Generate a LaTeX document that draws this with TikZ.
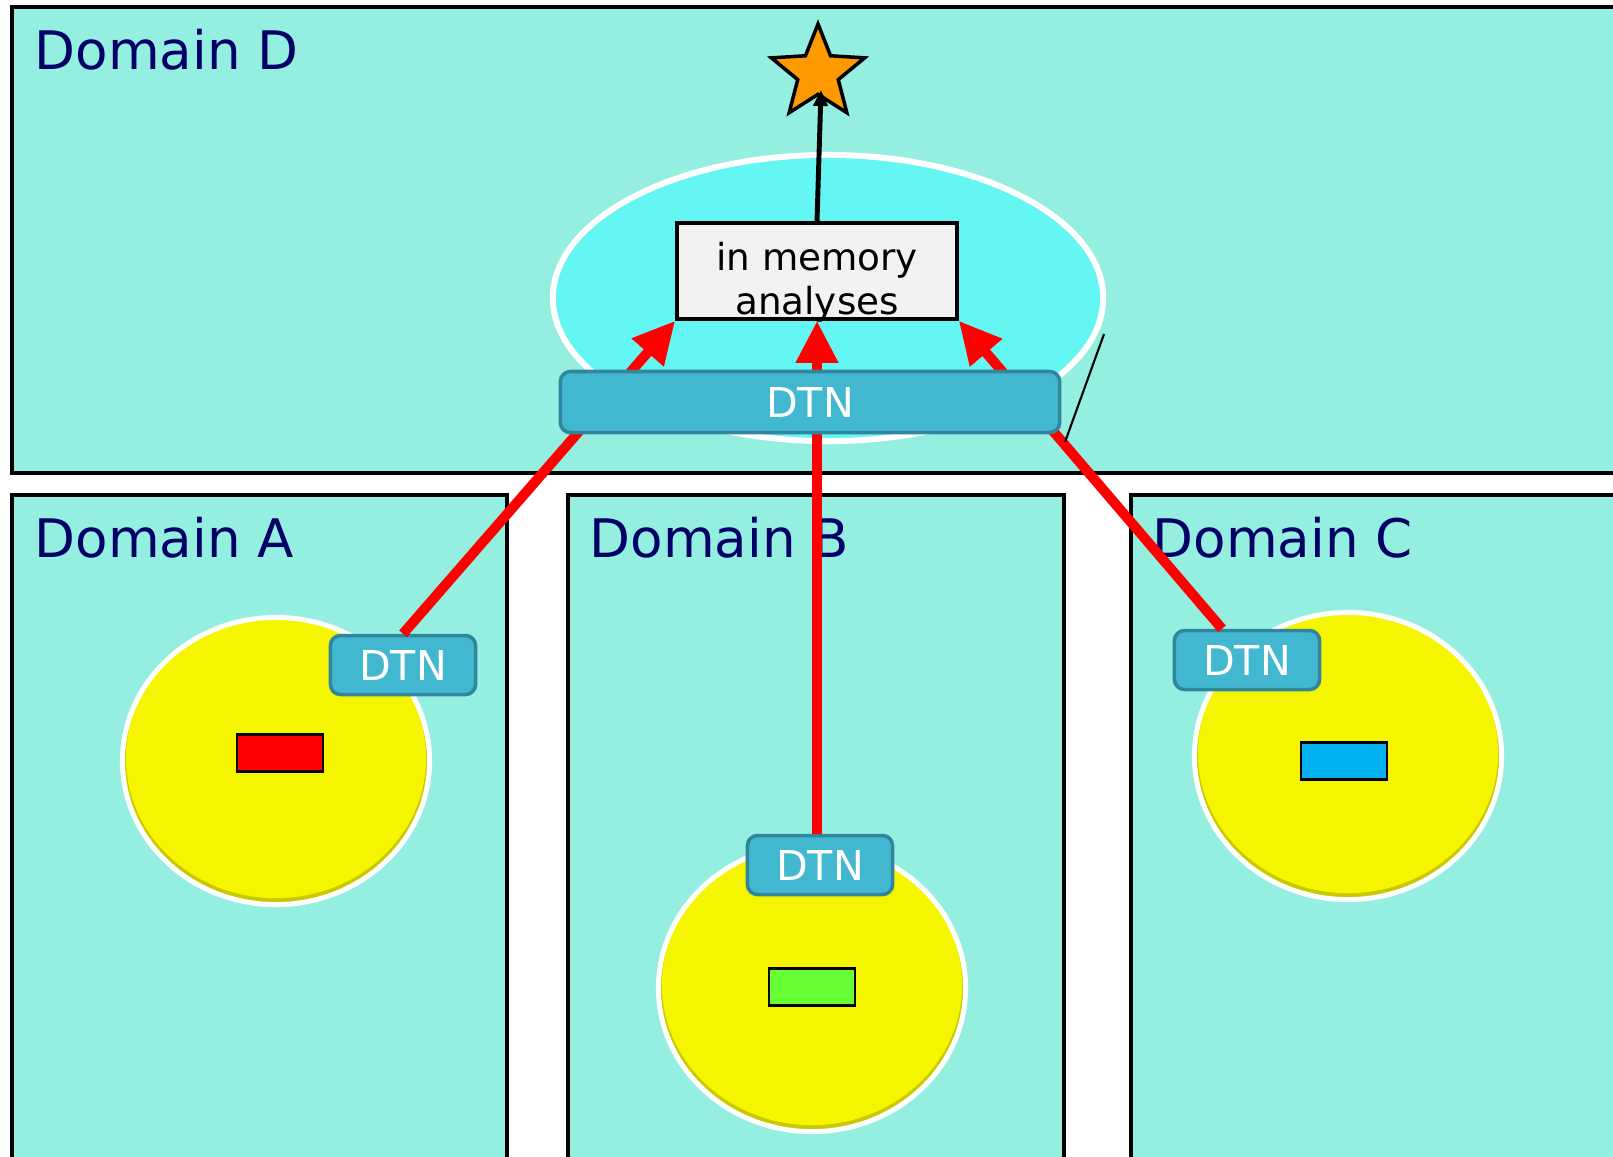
\documentclass[tikz,border=0pt]{standalone}
\usepackage{fontspec}
\setmainfont{DejaVu Sans}
\usetikzlibrary{shapes.geometric,arrows.meta}
\definecolor{domainfill}{RGB}{148,239,225}
\definecolor{domaintext}{RGB}{0,0,102}
\definecolor{hubcyan}{RGB}{99,246,242}
\definecolor{dtnfill}{RGB}{66,184,208}
\definecolor{dtnline}{RGB}{49,134,158}
\definecolor{poolyellow}{RGB}{245,245,0}
\definecolor{memgray}{RGB}{242,242,242}
\definecolor{starorange}{RGB}{255,153,0}
\definecolor{blockgreen}{RGB}{102,255,51}
\definecolor{blockblue}{RGB}{0,176,240}

\begin{document}
\begin{tikzpicture}[x=0.01cm,y=-0.01cm,
  domainbox/.style={draw=black,line width=1pt,fill=domainfill},
  domainlabel/.style={anchor=base west,inner sep=0pt,text=domaintext,font=\fontsize{15.1}{18}\selectfont},
  pool/.style={ellipse,draw=white,line width=0.05cm,fill=poolyellow!82!black,
    minimum width=3.07cm,minimum height=2.87cm,inner sep=0pt,
    path picture={\fill[poolyellow] ([yshift=0.03cm]path picture bounding box.center) ellipse (1.5cm and 1.4cm);}},
  block/.style={draw=black,line width=0.8pt,minimum width=0.86cm,minimum height=0.37cm,inner sep=0pt},
  dtn/.style={rounded corners=0.1cm,draw=dtnline,line width=1pt,fill=dtnfill,text=white,
    font=\fontsize{11.7}{14}\selectfont,minimum width=1.45cm,minimum height=0.59cm,inner sep=0pt},
  flow/.style={draw=red,line width=0.1cm,-{Triangle[length=0.42cm,width=0.4cm]}}]
\clip (0,0) rectangle (1613,1156);
\fill[white] (0,0) rectangle (1613,1156);

\draw[domainbox] (12,7) rectangle (1640,473);
\draw[domainbox] (12,495) rectangle (507,1180);
\draw[domainbox] (568,495) rectangle (1064,1180);
\draw[domainbox] (1131,495) rectangle (1640,1180);

\node[domainlabel] (labelD) at (34,69) {Domain D};
\node[domainlabel] (labelA) at (34,557) {Domain A};
\node[domainlabel] (labelB) at (589,557) {Domain B};
\node[domainlabel] (labelC) at (1152,557) {Domain C};

\node[ellipse,draw=white,line width=0.06cm,fill=hubcyan,minimum width=5.5cm,minimum height=2.86cm] (hub) at (828,298) {};

\node[pool] (poolA) at (276,761) {};
\node[pool] (poolB) at (812,988) {};
\node[pool] (poolC) at (1348,756) {};

\node[block,fill=red] (blockA) at (280,753) {};
\node[block,fill=blockgreen] (blockB) at (812,987) {};
\node[block,fill=blockblue] (blockC) at (1344,761) {};

\node[draw=black,line width=1pt,fill=memgray,minimum width=2.8cm,minimum height=0.96cm,
  label={[align=center,font=\fontsize{10.6}{12.5}\selectfont,yshift=-0.11cm]center:{in memory\\analyses}}] (mem) at (817,271) {};

\node[dtn] (dtnA) at (403,665) {DTN};
\node[dtn] (dtnB) at (820,865) {DTN};
\node[dtn] (dtnC) at (1247,660) {DTN};

\draw[flow] (dtnA.north) -- (mem.south west);
\draw[flow] (mem.south |- dtnB.north) -- (mem.south);
\draw[flow] ([xshift=-0.25cm]dtnC.north) -- (mem.south east);

\node[dtn,minimum width=4.99cm,minimum height=0.61cm] (bar) at (810,402) {DTN};

\node[star,star points=5,star point ratio=2.3,draw=black,line width=1pt,fill=starorange,minimum size=0.98cm,inner sep=0pt] (goal) at (818,73) {};
\draw[line width=1.4pt,-{Triangle[length=0.16cm,width=0.14cm]}] (mem.north) -- ([shift={(3,17)}]goal.center);

\draw[line width=0.6pt] (1104,334) -- (1065,442);
\end{tikzpicture}
\end{document}
